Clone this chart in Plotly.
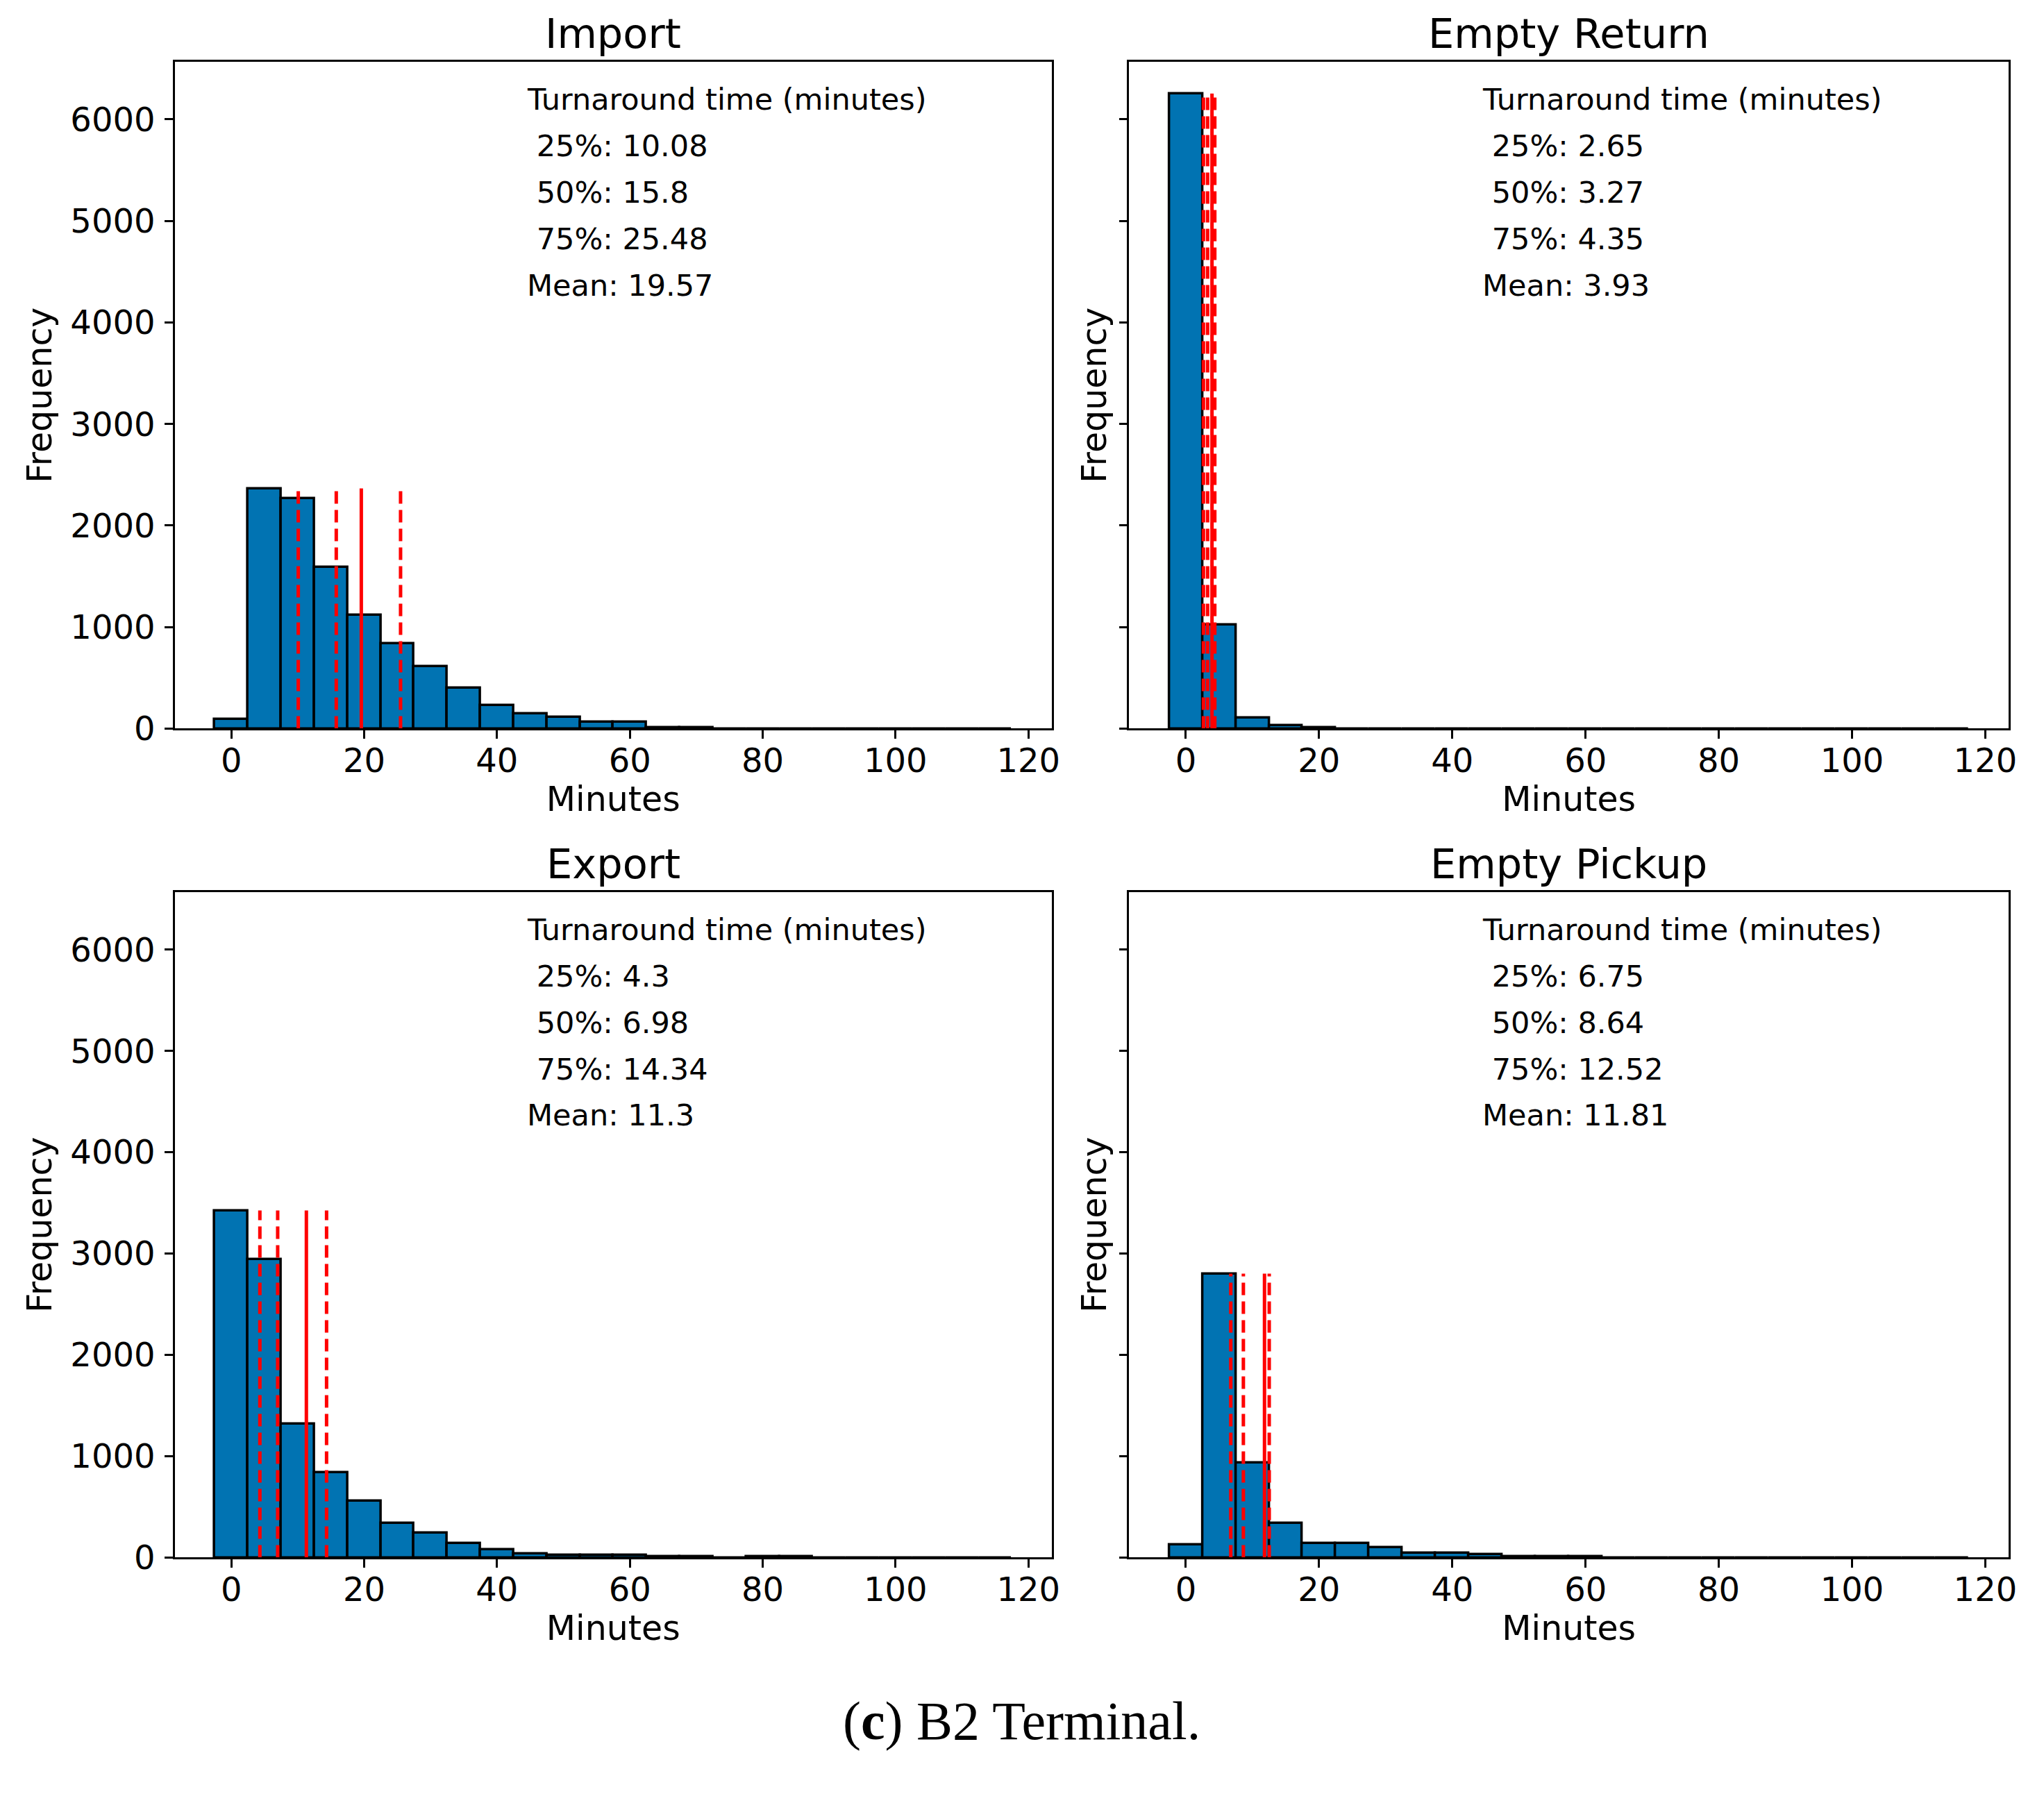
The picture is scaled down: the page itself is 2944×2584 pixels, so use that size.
import plotly.graph_objects as go

# histogram bins: width 5, centred on 0, 5, ..., 115
bin_centers = list(range(0, 120, 5))
bin_width = 5

panel_titles = ["Import", "Empty Return", "Export", "Empty Pickup"]

import_counts = [95, 2366, 2269, 1588, 1121, 839, 611, 397, 230, 144, 115, 65,
                 65, 14, 12, 0, 0, 0, 0, 0, 0, 0, 0, 0]
empty_return_counts = [6255, 1022, 108, 32, 11, 0, 0, 0, 0, 0, 0, 0,
                       0, 0, 0, 0, 0, 0, 0, 0, 0, 0, 0, 0]
export_counts = [3425, 2943, 1320, 839, 557, 337, 241, 142, 78, 39, 22, 22,
                 22, 10, 10, 0, 8, 8, 0, 0, 0, 0, 0, 0]
empty_pickup_counts = [127, 2801, 937, 342, 142, 142, 96, 44, 44, 28, 13, 13,
                       13, 0, 0, 0, 0, 0, 0, 0, 0, 0, 0, 0]

# 25%, 50%, 75%, mean
import_stats = [10.08, 15.8, 25.48, 19.57]
empty_return_stats = [2.65, 3.27, 4.35, 3.93]
export_stats = [4.3, 6.98, 14.34, 11.3]
empty_pickup_stats = [6.75, 8.64, 12.52, 11.81]

x_ticks = [0, 20, 40, 60, 80, 100, 120]
y_ticks = [0, 1000, 2000, 3000, 4000, 5000, 6000]

box_heading = "Turnaround time (minutes)"
caption = "(<b>c</b>) B2 Terminal."

counts_all = [import_counts, empty_return_counts, export_counts, empty_pickup_counts]
stats_all = [import_stats, empty_return_stats, export_stats, empty_pickup_stats]

BLUE = "#0173B2"
FONT = "DejaVu Sans"
W, H = 2944, 2584

x_domains = [[0.0859, 0.5166], [0.5547, 0.9867], [0.0859, 0.5166], [0.5547, 0.9867]]
y_domains = [[0.5894, 0.9652], [0.5894, 0.9652], [0.1223, 0.4973], [0.1223, 0.4973]]

x_lo = bin_centers[0] - bin_width / 2
x_hi = bin_centers[-1] + bin_width / 2
x_pad = 0.05 * (x_hi - x_lo)
y_top = 1.05 * max(max(c) for c in counts_all)

fig = go.Figure()
annotations = []

for i in range(4):
    xa = "x" if i == 0 else "x" + str(i + 1)
    ya = "y" if i == 0 else "y" + str(i + 1)
    counts = counts_all[i]
    q25, q50, q75, mean = stats_all[i]
    top = max(counts)

    fig.add_trace(go.Bar(x=bin_centers, y=counts, width=bin_width,
                         marker=dict(color=BLUE, line=dict(color="black", width=3.5)),
                         xaxis=xa, yaxis=ya, hoverinfo="x+y"))
    for q in [q25, q50, q75]:
        fig.add_trace(go.Scatter(x=[q, q], y=[0, top], mode="lines",
                                 line=dict(color="red", width=5, dash="18px,9px"),
                                 xaxis=xa, yaxis=ya))
    fig.add_trace(go.Scatter(x=[mean, mean], y=[0, top], mode="lines",
                             line=dict(color="red", width=5),
                             xaxis=xa, yaxis=ya))

    axis_common = dict(showline=True, mirror=True, linecolor="black", linewidth=2.5,
                       ticks="outside", ticklen=12, tickwidth=2.5, tickcolor="black",
                       showgrid=False, zeroline=False,
                       tickfont=dict(family=FONT, size=48, color="black"))
    fig.update_layout(**{
        ("xaxis" if i == 0 else "xaxis" + str(i + 1)): dict(
            axis_common, domain=x_domains[i], anchor=ya,
            range=[x_lo - x_pad, x_hi + x_pad], tickvals=x_ticks,
            ticklabelstandoff=-10,
            title=dict(text="Minutes", font=dict(family=FONT, size=49, color="black"),
                       standoff=10)),
        ("yaxis" if i == 0 else "yaxis" + str(i + 1)): dict(
            axis_common, domain=y_domains[i], anchor=xa,
            range=[0, y_top], tickvals=y_ticks,
            showticklabels=(i % 2 == 0), ticklabelstandoff=4,
            title=dict(text="Frequency", font=dict(family=FONT, size=49, color="black"),
                       standoff=12 if i % 2 == 0 else 3)),
    })

    annotations.append(dict(text=panel_titles[i], xref=xa + " domain", yref=ya + " domain",
                            x=0.5, y=1, xanchor="center", yanchor="middle", yshift=40,
                            showarrow=False, font=dict(family=FONT, size=59, color="black")))

    lines = [box_heading,
             "\u00a025%: " + str(q25),
             "\u00a050%: " + str(q50),
             "\u00a075%: " + str(q75),
             "Mean: " + str(mean)]
    for k, line in enumerate(lines):
        annotations.append(dict(text=line, xref=xa + " domain", yref=ya + " domain",
                                x=0.4, y=1 - 0.0566 - k * 0.0697,
                                xanchor="left", yanchor="middle", showarrow=False,
                                font=dict(family=FONT, size=43, color="black")))

annotations.append(dict(text=caption, xref="paper", yref="paper", x=0.502, y=0.0302,
                        xanchor="center", yanchor="middle", showarrow=False,
                        font=dict(family="Liberation Serif", size=78, color="black")))

fig.update_layout(width=W, height=H, margin=dict(l=0, r=0, t=0, b=0),
                  paper_bgcolor="white", plot_bgcolor="white",
                  showlegend=False, bargap=0, annotations=annotations)

# no modebar, and drop the default 8px body margin so the figure sits at 0,0
fig.write_html("out.html", config={"displayModeBar": False},
               post_script="document.body.style.margin = '0';")
